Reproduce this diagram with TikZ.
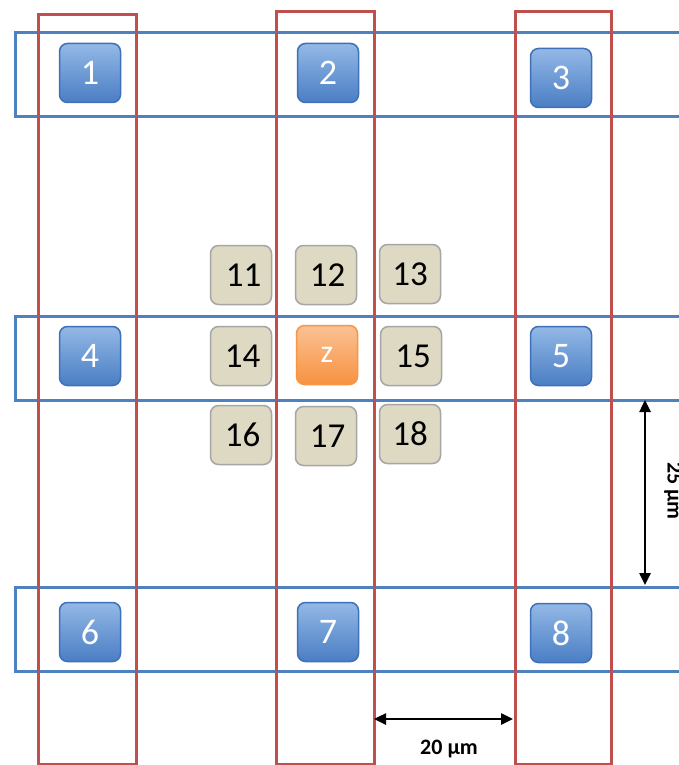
\documentclass[tikz,border=0pt]{standalone}
\usepackage{fontspec}
\setmainfont{Carlito}
\usetikzlibrary{arrows.meta}
\definecolor{rowblue}{HTML}{4F81BD}
\definecolor{colred}{HTML}{C0504D}
\definecolor{btop}{HTML}{93B8E6}
\definecolor{bbot}{HTML}{4A7EC4}
\definecolor{bdraw}{HTML}{3F70B8}
\definecolor{otop}{HTML}{FAC194}
\definecolor{obot}{HTML}{F79240}
\definecolor{odraw}{HTML}{F79646}
\definecolor{gfill}{HTML}{DDD9C3}
\definecolor{gdraw}{HTML}{A6A6A6}
\tikzset{
  rowbox/.style={draw=rowblue, line width=3pt, rectangle, anchor=north west, minimum width=720pt, minimum height=84pt, inner sep=0pt},
  colbox/.style={draw=colred, line width=3pt, rectangle, anchor=north west, inner sep=0pt},
  cellbase/.style={rectangle, rounded corners=8pt, minimum width=61pt, minimum height=59pt, inner sep=0pt, line width=1.5pt},
  bluebox/.style={cellbase, draw=bdraw, top color=btop, bottom color=bbot, text=white, font=\fontsize{36}{36}\selectfont},
  orangebox/.style={cellbase, draw=odraw, top color=otop, bottom color=obot, text=white, font=\fontsize{32}{32}\selectfont},
  graybox/.style={cellbase, draw=gdraw, fill=gfill, text=black, font=\fontsize{35}{35}\selectfont},
  dimarrow/.style={line width=2.5pt, {Triangle[length=12pt,width=11pt]}-{Triangle[length=12pt,width=11pt]}},
  dimlabel/.style={font=\bfseries\fontsize{22}{22}\selectfont, inner sep=0pt}
}
\begin{document}
\begin{tikzpicture}[x=1pt,y=-1pt]
\clip (0,0) rectangle (679,765);
\fill[white] (0,0) rectangle (679,765);
% horizontal (blue) rows
\node[rowbox] (row1) at (14,31) {};
\node[rowbox] (row2) at (14,315) {};
\node[rowbox] (row3) at (14,586) {};
% vertical (red) columns
\node[colbox, minimum width=98pt, minimum height=750pt] (col1) at (37,13) {};
\node[colbox, minimum width=98pt, minimum height=753pt] (col2) at (275,10) {};
\node[colbox, minimum width=96pt, minimum height=753pt] (col3) at (514,10) {};
% blue cells
\node[bluebox] (b1) at (90,73) {1};
\node[bluebox] (b2) at (328,73) {2};
\node[bluebox] (b3) at (561,78) {3};
\node[bluebox] (b4) at (90,356) {4};
\node[bluebox] (b5) at (561,356) {5};
\node[bluebox] (b6) at (90,632) {6};
\node[bluebox] (b7) at (328,632) {7};
\node[bluebox] (b8) at (561,633) {8};
% gray cells
\node[graybox] (g11) at (241,275) {\hspace*{5pt}11};
\node[graybox] (g12) at (326,275) {\hspace*{3pt}12};
\node[graybox] (g13) at (410,274) {13};
\node[graybox] (g14) at (241,356) {\hspace*{3pt}14};
\node[orangebox] (z) at (327,355) {z};
\node[graybox] (g15) at (411,356) {\hspace*{4pt}15};
\node[graybox] (g16) at (241,435) {\hspace*{3pt}16};
\node[graybox] (g17) at (326,436) {\hspace*{3pt}17};
\node[graybox] (g18) at (410,434) {18};
% dimensions
\coordinate (va) at (645,400);
\coordinate (vb) at (645,585);
\draw[dimarrow] (va) -- (vb);
\node[dimlabel, rotate=-90] (vlab) at (673,491) {25 µm};
\coordinate (ha) at (374,719);
\coordinate (hb) at (513,719);
\draw[dimarrow] (ha) -- (hb);
\node[dimlabel] (hlab) at (449,749) {20 µm};
\end{tikzpicture}
\end{document}
